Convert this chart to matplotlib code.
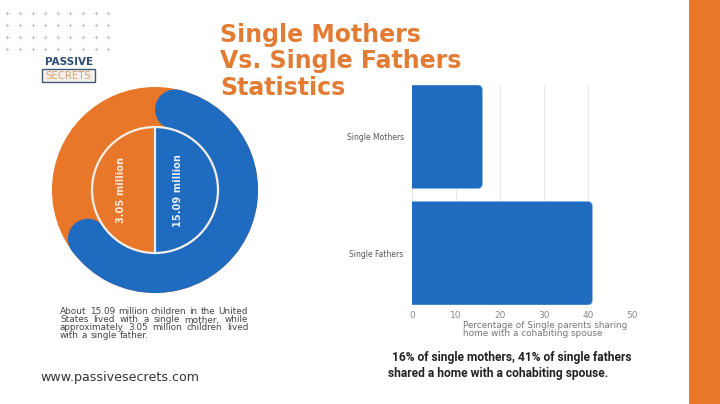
import matplotlib
matplotlib.use('Agg')
import matplotlib.pyplot as plt
from matplotlib.patches import Circle, Wedge, Rectangle, FancyBboxPatch
import matplotlib.font_manager as fm
import numpy as np

# ---------------- data ----------------
parent_types = ["Single Mothers", "Single Fathers"]
cohabiting_pct = [16, 41]
children_labels = ["3.05 million", "15.09 million"]   # fathers, mothers
x_ticks = [0, 10, 20, 30, 40, 50]
title_lines = ["Single Mothers", "Vs. Single Fathers", "Statistics"]
xlabel_lines = ["Percentage of Single parents sharing", "home with a cohabiting spouse"]
left_caption = ["About 15.09 million children in the United",
                "States lived with a single mother, while",
                "approximately 3.05 million children lived",
                "with a single father."]
bottom_caption = ["16% of single mothers, 41% of single fathers",
                  "shared a home with a cohabiting spouse."]
url_text = "www.passivesecrets.com"

BLUE = '#1E6BC0'
ORANGE = '#E8772A'
TITLE = '#E27B33'

names = {f.name for f in fm.fontManager.ttflist}
COND = 'Liberation Sans Narrow' if 'Liberation Sans Narrow' in names else 'Roboto'

fig = plt.figure(figsize=(7.2, 4.04), dpi=100)
fig.patch.set_facecolor('white')
bg = fig.add_axes([0, 0, 1, 1])
bg.set_xlim(0, 720)
bg.set_ylim(404, 0)
bg.axis('off')
renderer = fig.canvas.get_renderer()


def fit(t, w):
    bb = t.get_window_extent(renderer)
    t.set_fontsize(t.get_fontsize() * w / bb.width)
    return t.get_fontsize()


# orange strip on right
bg.add_patch(Rectangle((689, 0), 31, 404, fc=ORANGE, ec='none'))

# dots
xs = 7.3 + 12.6 * np.arange(9)
ys = 13.3 + 12.0 * np.arange(4)
gx, gy = np.meshgrid(xs, ys)
bg.scatter(gx.ravel(), gy.ravel(), marker='+', s=5, c='#B5B5B5', linewidths=0.5)

# logo
t = bg.text(69, 62, "PASSIVE", ha='center', va='center', color='#2D4D73',
            fontweight='bold', fontsize=8)
fit(t, 48)
bg.add_patch(Rectangle((42, 69), 53, 13, fc='#F6F0EA', ec='#3A5878', lw=1))
t = bg.text(68.5, 75.8, "SECRETS", ha='center', va='center', color='#E0A070',
            fontsize=8)
fit(t, 46)

# title
tts = []
for line, yb in zip(title_lines, [42, 68, 95]):
    tts.append(bg.text(220, yb, line, ha='left', va='baseline', color=TITLE,
                       fontweight='bold', fontsize=18))
fs = fit(tts[1], 241)
for tt in tts:
    tt.set_fontsize(fs)

# donut
cx, cy = 155, 190
R, r_in = 103, 63
bg.add_patch(Circle((cx, cy), R, fc=ORANGE, ec='none'))
th_start, th_end = -76, 144
bg.add_patch(Wedge((cx, cy), R, th_start, th_end, width=R - r_in, fc=BLUE, ec='none'))
mid = (R + r_in) / 2
half = (R - r_in) / 2
for th in (th_start, th_end):
    a = np.deg2rad(th)
    bg.add_patch(Circle((cx + mid * np.cos(a), cy + mid * np.sin(a)), half,
                        fc=BLUE, ec='none'))
bg.add_patch(Wedge((cx, cy), r_in, -90, 90, fc=BLUE, ec='none'))
bg.add_patch(Circle((cx, cy), r_in, fill=False, ec='#F6EFE6', lw=1.6))
bg.plot([cx, cx], [cy - r_in, cy + r_in], color='#F6EFE6', lw=1.6)

t = bg.text(121, 190, children_labels[0], ha='center', va='center',
            color='#F8E9DC', fontweight='bold', fontsize=8)
fit(t, 65)
t.set_rotation(90)
t = bg.text(178, 191, children_labels[1], ha='center', va='center',
            color='#E6F0FA', fontweight='bold', fontsize=8)
fit(t, 72)
t.set_rotation(90)

# left caption (justified)
probe = bg.text(0, 0, left_caption[0], fontsize=6)
cap_fs = fit(probe, 188)
probe.remove()
x0, x1 = 60, 248
for i, (line, y) in enumerate(zip(left_caption, [312, 320, 328, 336])):
    words = line.split()
    ts = [bg.text(0, y, w, fontsize=cap_fs, va='center', ha='left', color='#444444')
          for w in words]
    widths = [tw.get_window_extent(renderer).width for tw in ts]
    if i < len(left_caption) - 1:
        gap = (x1 - x0 - sum(widths)) / (len(words) - 1)
    else:
        sp = bg.text(0, 0, "a a", fontsize=cap_fs)
        sa = bg.text(0, 0, "aa", fontsize=cap_fs)
        gap = sp.get_window_extent(renderer).width - sa.get_window_extent(renderer).width
        sp.remove(); sa.remove()
    xx = x0
    for tw, wd in zip(ts, widths):
        tw.set_x(xx)
        xx += wd + gap

# url
t = bg.text(40, 377, url_text, ha='left', va='center', color='#333333', fontsize=10)
fit(t, 158)

# bottom bold caption
b1 = bg.text(392, 357, bottom_caption[0], ha='left', va='center', color='#222222',
             fontweight='bold', fontsize=9, family=[COND, 'DejaVu Sans'])
bfs = fit(b1, 240)
bg.text(388, 373, bottom_caption[1], ha='left', va='center', color='#222222',
        fontweight='bold', fontsize=bfs, family=[COND, 'DejaVu Sans'])

# x-axis label
xl1 = bg.text(463, 326, xlabel_lines[0], ha='left', va='center', color='#777777', fontsize=6)
xfs = fit(xl1, 167)
bg.text(463, 334, xlabel_lines[1], ha='left', va='center', color='#777777', fontsize=xfs)

# ---------------- bar chart ----------------
ax = fig.add_axes([412 / 720, 1 - 305 / 404, 220 / 720, 220 / 404])
ax.set_facecolor('none')
ypos = np.arange(len(parent_types))
bar_h = 0.89
bars = ax.barh(ypos, cohabiting_pct, height=bar_h, color=BLUE)
ax.set_xlim(0, 50)
ax.set_ylim(len(parent_types) - 1 + bar_h / 2, -bar_h / 2)
xpp = 50 / 220
ypp = (len(parent_types) - 1 + bar_h) / 220
rs = 5 * xpp
for b in bars:
    x, y0 = b.get_x(), b.get_y()
    w, h = b.get_width(), b.get_height()
    p = FancyBboxPatch((x - 3, y0), w + 3, h,
                       boxstyle=f"round,pad=0,rounding_size={rs}",
                       mutation_aspect=ypp / xpp, fc=BLUE, ec='#8DB8E4', lw=0.5)
    ax.add_patch(p)
    b.remove()
ax.set_xticks(x_ticks)
ax.set_yticks(ypos)
ax.set_yticklabels(parent_types)
ax.grid(axis='x', color='#E8E8E8', lw=0.8)
ax.set_axisbelow(True)
for s in ax.spines.values():
    s.set_visible(False)
ax.tick_params(axis='x', length=0, labelsize=6.5, labelcolor='#888888', pad=4)
ax.tick_params(axis='y', length=0, labelsize=5.5, labelcolor='#555555', pad=6)

fig.savefig('out.png', dpi=100)
